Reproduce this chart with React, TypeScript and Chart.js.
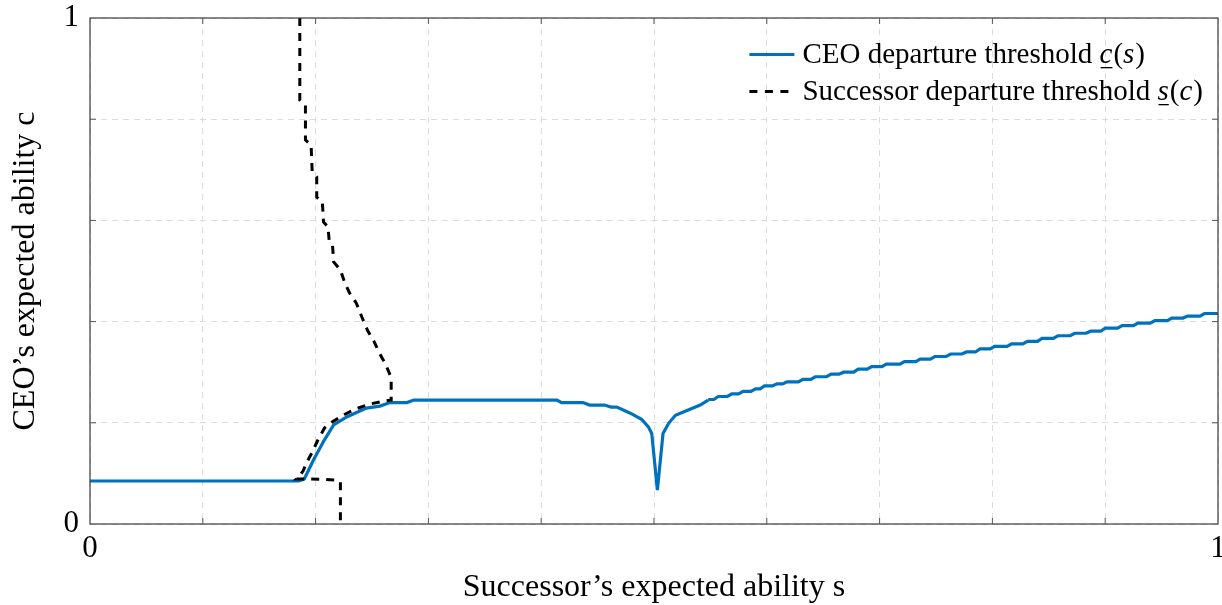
import React, { useEffect, useRef } from "react";
import { Chart, registerables } from "chart.js";

Chart.register(...registerables);

// CEO departure threshold c(s): smooth part (s, c)
const ceoS = [0, 0.185, 0.190, 0.198, 0.207, 0.216, 0.228, 0.245, 0.257, 0.266, 0.281, 0.287, 0.414, 0.418, 0.437, 0.443, 0.456, 0.462, 0.467, 0.479, 0.489, 0.495, 0.498, 0.503, 0.508, 0.513, 0.519, 0.541, 0.548];
const ceoC = [0.085, 0.085, 0.089, 0.126, 0.163, 0.196, 0.212, 0.229, 0.233, 0.240, 0.240, 0.245, 0.245, 0.240, 0.240, 0.235, 0.235, 0.231, 0.231, 0.219, 0.207, 0.192, 0.179, 0.067, 0.179, 0.199, 0.215, 0.235, 0.245];

// CEO departure threshold c(s): staircase part (step start s, level c)
const ceoStepS = [0.548, 0.557, 0.569, 0.579, 0.590, 0.598, 0.609, 0.618, 0.632, 0.643, 0.657, 0.668, 0.681, 0.693, 0.706, 0.722, 0.736, 0.749, 0.763, 0.777, 0.789, 0.802, 0.817, 0.831, 0.844, 0.858, 0.873, 0.887, 0.900, 0.915, 0.929, 0.944, 0.959, 0.973, 0.988, 1.0];
const ceoStepC = [0.246, 0.252, 0.257, 0.262, 0.267, 0.273, 0.277, 0.281, 0.286, 0.291, 0.296, 0.300, 0.306, 0.311, 0.316, 0.321, 0.326, 0.331, 0.336, 0.340, 0.346, 0.351, 0.356, 0.361, 0.367, 0.372, 0.377, 0.381, 0.387, 0.392, 0.397, 0.402, 0.407, 0.411, 0.416, 0.416];

// Successor departure threshold s(c): (s, c) path
const succS = [0.186, 0.186, 0.191, 0.191, 0.196, 0.197, 0.201, 0.201, 0.206, 0.207, 0.211, 0.212, 0.215, 0.216, 0.222, 0.226, 0.230, 0.236, 0.241, 0.246, 0.252, 0.256, 0.262, 0.265, 0.267, 0.267, 0.257, 0.248, 0.235, 0.226, 0.215, 0.208, 0.202, 0.197, 0.192, 0.189, 0.185, 0.183, 0.195, 0.218, 0.222, 0.222];
const succC = [1.0, 0.838, 0.828, 0.759, 0.749, 0.696, 0.686, 0.646, 0.636, 0.597, 0.587, 0.561, 0.551, 0.518, 0.502, 0.476, 0.457, 0.437, 0.409, 0.383, 0.360, 0.340, 0.316, 0.300, 0.289, 0.245, 0.241, 0.237, 0.227, 0.217, 0.202, 0.190, 0.166, 0.142, 0.121, 0.105, 0.093, 0.089, 0.089, 0.087, 0.083, 0.0];

// Tick values that carry a label
const labeledTicks = [0, 1];

// Text
const xTitle = "Successor\u2019s expected ability s";
const yTitle = "CEO\u2019s expected ability c";
const legendPrefix = ["CEO departure threshold ", "Successor departure threshold "];
const legendVar = ["c", "s"];
const legendArg = ["s", "c"];

const BLUE = "#0072BD";
const FONT = '"Liberation Serif", "Times New Roman", serif';
const RISER = 0.004;

// staircase corners: each level held until just before the next step starts
const stairPoints = () => {
  const pts: { x: number; y: number }[] = [];
  for (let i = 0; i < ceoStepS.length; i++) {
    pts.push({ x: ceoStepS[i], y: ceoStepC[i] });
    if (i + 1 < ceoStepS.length && ceoStepC[i + 1] !== ceoStepC[i]) {
      pts.push({ x: ceoStepS[i + 1] - RISER, y: ceoStepC[i] });
    }
  }
  return pts;
};

const tickLabel = (value: any) => {
  const v = Number(value);
  for (const t of labeledTicks) {
    if (Math.abs(v - t) < 1e-9) return String(t);
  }
  return "";
};

const framePlugin = {
  id: "frameAndTicks",
  afterDraw(chart: any) {
    const { ctx, chartArea } = chart;
    const { left, right, top, bottom } = chartArea;
    ctx.save();
    ctx.strokeStyle = "#3a3a3a";
    ctx.lineWidth = 1.2;
    ctx.setLineDash([]);
    ctx.strokeRect(left, top, right - left, bottom - top);
    const tl = 6;
    ctx.beginPath();
    chart.scales.x.ticks.forEach((t: any) => {
      if (t.value <= 1e-9 || t.value >= 1 - 1e-9) return;
      const px = chart.scales.x.getPixelForValue(t.value);
      ctx.moveTo(px, bottom);
      ctx.lineTo(px, bottom - tl);
      ctx.moveTo(px, top);
      ctx.lineTo(px, top + tl);
    });
    chart.scales.y.ticks.forEach((t: any) => {
      if (t.value <= 1e-9 || t.value >= 1 - 1e-9) return;
      const py = chart.scales.y.getPixelForValue(t.value);
      ctx.moveTo(left, py);
      ctx.lineTo(left + tl, py);
      ctx.moveTo(right, py);
      ctx.lineTo(right - tl, py);
    });
    ctx.strokeStyle = "#555";
    ctx.lineWidth = 1;
    ctx.stroke();
    ctx.restore();
  },
};

const legendPlugin = {
  id: "texLegend",
  afterDraw(chart: any) {
    const { ctx, chartArea } = chart;
    const size = 29;
    const roman = `${size}px ${FONT}`;
    const italic = `italic ${size}px ${FONT}`;
    ctx.save();
    const widths: number[] = [];
    for (let i = 0; i < legendPrefix.length; i++) {
      ctx.font = roman;
      let w = ctx.measureText(legendPrefix[i] + "()").width;
      ctx.font = italic;
      w += ctx.measureText(legendVar[i]).width + ctx.measureText(legendArg[i]).width + 2;
      widths.push(w);
    }
    const maxW = Math.max(...widths);
    const textX = chartArea.right - 15 - maxW;
    const lineX2 = textX - 8;
    const lineX1 = lineX2 - 45;
    const baselines = [chartArea.top + 45, chartArea.top + 82];
    ctx.fillStyle = "#000";
    ctx.textBaseline = "alphabetic";
    ctx.textAlign = "left";
    for (let i = 0; i < legendPrefix.length; i++) {
      const by = baselines[i];
      ctx.beginPath();
      ctx.lineWidth = 3;
      ctx.strokeStyle = i === 0 ? BLUE : "#000";
      ctx.setLineDash(i === 0 ? [] : [8, 7.5]);
      ctx.moveTo(lineX1, by - 8.5);
      ctx.lineTo(lineX2, by - 8.5);
      ctx.stroke();
      ctx.setLineDash([]);
      let x = textX;
      ctx.font = roman;
      ctx.fillText(legendPrefix[i], x, by);
      x += ctx.measureText(legendPrefix[i]).width;
      ctx.font = italic;
      ctx.fillText(legendVar[i], x, by);
      const vw = ctx.measureText(legendVar[i]).width;
      ctx.fillRect(x + 1, by + 4, vw - 1, 1.3);
      x += vw + 1;
      ctx.font = roman;
      ctx.fillText("(", x, by);
      x += ctx.measureText("(").width;
      ctx.font = italic;
      ctx.fillText(legendArg[i], x, by);
      x += ctx.measureText(legendArg[i]).width + 1;
      ctx.font = roman;
      ctx.fillText(")", x, by);
    }
    ctx.restore();
  },
};

export default function App() {
  const ref = useRef<HTMLCanvasElement>(null);
  useEffect(() => {
    document.body.style.margin = "0";
    const canvas = ref.current;
    if (!canvas) return;
    const chart = new Chart(canvas, {
      type: "scatter",
      data: {
        datasets: [
          {
            label: legendPrefix[1] + legendVar[1] + "(" + legendArg[1] + ")",
            data: succS.map((s, i) => ({ x: s, y: succC[i] })),
            showLine: true,
            borderColor: "#000",
            backgroundColor: "#000",
            borderWidth: 3,
            borderDash: [8, 7],
            pointRadius: 0,
            fill: false,
            order: 0,
          },
          {
            label: legendPrefix[0] + legendVar[0] + "(" + legendArg[0] + ")",
            data: ceoS.map((s, i) => ({ x: s, y: ceoC[i] })),
            showLine: true,
            borderColor: BLUE,
            backgroundColor: BLUE,
            borderWidth: 3.2,
            pointRadius: 0,
            fill: false,
            order: 1,
          },
          {
            label: "",
            data: stairPoints(),
            showLine: true,
            borderColor: BLUE,
            backgroundColor: BLUE,
            borderWidth: 3.2,
            pointRadius: 0,
            fill: false,
            order: 1,
          },
        ],
      },
      options: {
        responsive: false,
        animation: false,
        devicePixelRatio: 1,
        events: [],
        layout: { padding: { left: 0, right: 4, top: 18, bottom: 0 } },
        plugins: {
          legend: { display: false },
          tooltip: { enabled: false },
        },
        scales: {
          x: {
            type: "linear",
            min: 0,
            max: 1,
            ticks: {
              stepSize: 0.1,
              autoSkip: false,
              maxRotation: 0,
              padding: 6,
              color: "#000",
              font: { family: FONT, size: 31 },
              callback: tickLabel,
            },
            grid: { color: "#dcdcdc", lineWidth: 1, drawTicks: false },
            border: { display: false, dash: [6, 5] },
            title: {
              display: true,
              text: xTitle,
              color: "#000",
              font: { family: FONT, size: 32, lineHeight: 1 },
              padding: { top: 0, bottom: 1 },
            },
            afterFit: (scale: any) => {
              scale.height = 81;
              scale.paddingLeft = 0;
              scale.paddingRight = 0;
            },
          },
          y: {
            type: "linear",
            min: 0,
            max: 1,
            ticks: {
              stepSize: 0.2,
              autoSkip: false,
              padding: 11,
              color: "#000",
              font: { family: FONT, size: 31 },
              callback: tickLabel,
            },
            grid: { color: "#dcdcdc", lineWidth: 1, drawTicks: false },
            border: { display: false, dash: [6, 5] },
            title: {
              display: true,
              text: yTitle,
              color: "#000",
              font: { family: FONT, size: 32, lineHeight: 1 },
              padding: { top: 10, bottom: 0 },
            },
            afterFit: (scale: any) => {
              scale.width = 90;
              scale.paddingTop = 0;
              scale.paddingBottom = 0;
            },
          },
        },
      },
      plugins: [framePlugin, legendPlugin],
    } as any);
    return () => chart.destroy();
  }, []);
  return (
    <div style={{ width: 1222, height: 605 }}>
      <canvas ref={ref} width={1222} height={605} style={{ display: "block" }} />
    </div>
  );
}
